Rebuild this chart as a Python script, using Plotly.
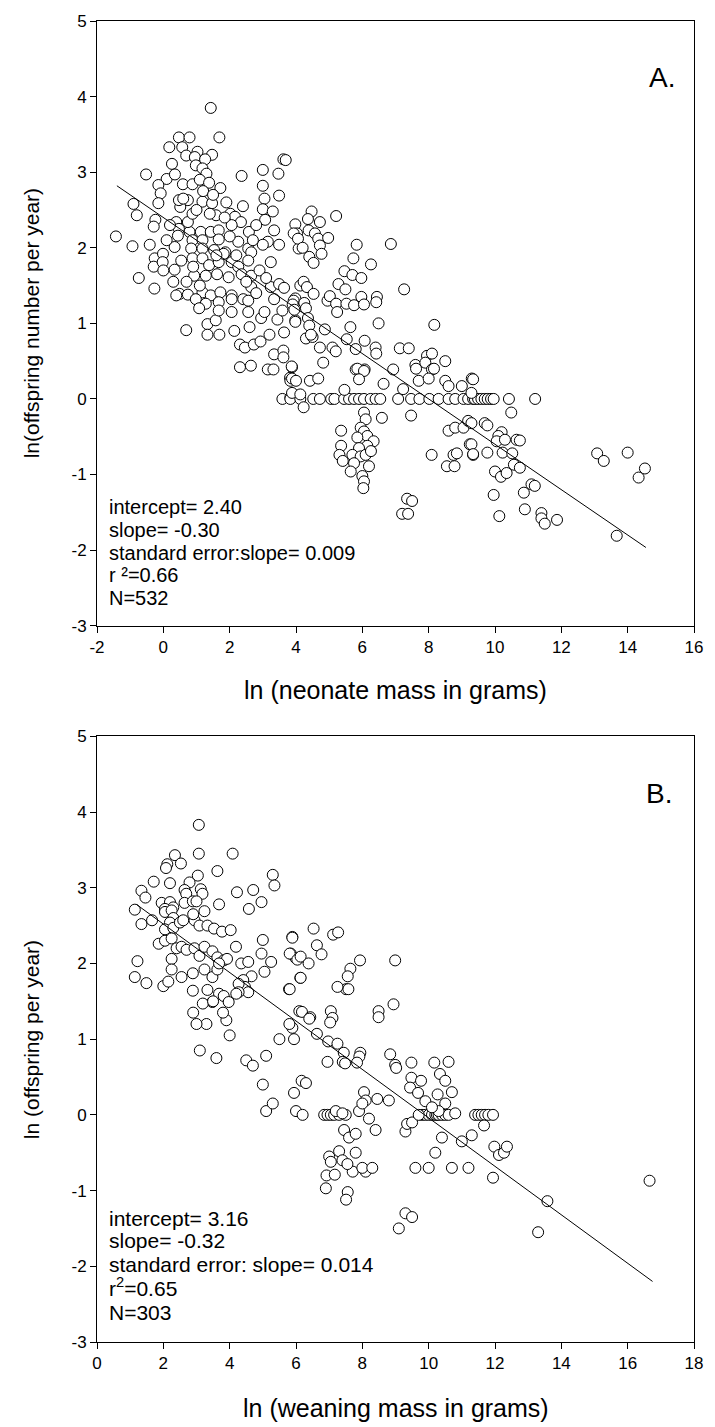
import plotly.graph_objects as go

# ---------------- Panel A data: ln(neonate mass) vs ln(offspring number per year)
a_core = [
    (1.43, 3.85), (0.47, 3.46), (0.79, 3.46), (1.69, 3.46), (0.18, 3.33), (0.57, 3.33), (0.69, 3.22),
    (1.03, 3.27), (0.95, 3.20), (1.47, 3.23), (1.26, 3.17), (0.26, 3.11), (0.98, 3.09), (1.18, 3.05),
    (1.30, 2.98), (-0.52, 2.97), (0.10, 2.91), (-0.15, 2.83), (0.35, 2.97), (0.59, 2.84), (0.88, 2.84),
    (1.10, 2.90), (1.38, 2.86), (1.72, 2.79), (2.36, 2.95), (3.00, 3.03), (3.47, 2.98), (3.62, 3.17),
    (3.00, 2.82), (3.49, 2.69), (3.05, 2.65), (3.00, 2.51), (3.30, 2.48), (3.07, 2.37), (3.34, 2.23),
    (-0.08, 2.72), (-0.15, 2.59), (-0.90, 2.58), (-0.80, 2.43), (-0.24, 2.37), (-0.29, 2.28), (-1.43, 2.15),
    (-0.93, 2.02), (-0.41, 2.04), (0.34, 2.01), (-0.26, 1.86), (-0.01, 1.92), (-0.29, 1.75), (-0.02, 1.81),
    (-0.74, 1.60), (-0.27, 1.46), (0.34, 1.71),
]
a_core_dense = [
    (0.39, 2.34), (0.47, 2.25), (0.44, 2.16), (0.79, 2.21), (0.74, 2.34), (1.13, 2.21), (1.43, 2.21),
    (1.67, 2.23), (0.88, 2.10), (1.18, 2.10), (1.67, 2.11), (0.84, 1.99), (1.18, 1.99), (1.53, 1.97),
    (1.87, 1.94), (2.26, 2.08), (2.56, 1.99), (2.65, 1.94), (2.02, 2.45), (2.16, 2.41), (2.34, 2.34),
    (2.06, 2.30), (2.58, 2.21), (0.74, 2.63), (1.18, 2.61), (1.47, 2.59), (1.59, 2.43), (1.85, 2.40),
    (0.51, 2.54), (0.88, 2.45), (0.47, 2.63), (0.54, 1.83), (0.88, 1.86), (1.18, 1.86), (1.38, 1.77),
    (1.67, 1.81), (1.82, 1.92), (2.06, 1.81), (2.26, 1.75), (2.56, 1.83), (0.93, 1.63), (1.28, 1.63),
    (1.62, 1.65), (1.97, 1.61), (2.36, 1.65), (2.65, 1.63), (0.49, 1.39), (0.74, 1.38), (1.18, 1.41),
    (1.43, 1.37), (1.72, 1.41), (2.06, 1.37), (2.41, 1.32), (2.65, 1.48), (3.24, 1.81), (3.49, 2.04),
    (3.15, 2.08), (3.00, 2.04), (3.24, 1.48), (3.49, 1.52), (3.64, 1.47), (3.98, 2.31), (4.03, 2.19),
    (4.08, 1.99), (3.98, 1.33), (4.13, 1.50), (1.00, 2.50), (1.20, 2.75), (0.60, 2.65), (1.50, 2.70),
    (2.00, 2.15), (2.20, 1.90), (1.40, 2.45), (0.20, 2.30), (0.10, 2.10), (0.00, 1.70), (2.80, 2.30),
    (2.90, 1.70), (2.80, 1.40), (3.10, 1.60), (2.50, 1.55), (1.10, 1.50), (0.70, 1.55), (0.90, 1.75),
    (1.60, 1.90), (2.40, 2.55), (2.70, 2.10), (1.90, 2.60), (0.30, 1.55),
]
a_lower_left = [
    (0.69, 0.91), (1.33, 0.99), (1.58, 1.04), (1.33, 0.85), (1.69, 0.85), (2.14, 0.90), (2.60, 0.95),
    (2.31, 0.72), (2.46, 0.68), (2.73, 0.72), (2.93, 0.76), (3.20, 0.85), (2.95, 1.07), (3.44, 1.05),
    (3.59, 1.17), (3.98, 1.04), (3.64, 0.88), (3.34, 0.59), (3.62, 0.64), (3.62, 0.55), (2.31, 0.42),
    (2.64, 0.44), (3.15, 0.39), (3.32, 0.39), (3.88, 0.42), (3.82, 0.28), (3.83, 0.24), (3.59, 0.00),
    (3.83, 0.02), (0.39, 1.37), (0.98, 1.32), (1.28, 1.26), (1.67, 1.28), (2.06, 1.32), (2.56, 1.30),
    (3.34, 1.32), (3.93, 1.30), (3.05, 1.15), (2.56, 1.15), (2.06, 1.15), (1.67, 1.17), (1.08, 1.20),
]
a_mid = [
    (3.69, 3.16), (4.47, 2.48), (4.36, 2.38), (4.72, 2.34), (5.21, 2.42), (3.93, 2.19), (4.38, 2.23),
    (4.06, 2.12), (4.57, 2.19), (4.67, 2.12), (4.97, 2.13), (4.20, 2.00), (4.72, 2.03), (4.77, 1.92),
    (4.40, 1.88), (4.53, 1.80), (5.83, 2.04), (6.86, 2.05), (5.73, 1.86), (6.26, 1.78), (5.46, 1.69),
    (5.70, 1.64), (5.97, 1.60), (5.28, 1.52), (5.49, 1.45), (4.23, 1.55), (4.33, 1.48), (4.53, 1.39),
    (4.95, 1.30), (5.02, 1.36), (5.21, 1.26), (5.52, 1.26), (5.75, 1.24), (5.97, 1.35), (6.05, 1.25),
    (6.44, 1.35), (6.42, 1.28), (7.26, 1.45), (5.24, 1.15), (3.90, 1.25), (3.95, 1.18), (4.25, 1.27),
    (4.30, 1.20), (3.98, 1.02), (4.36, 1.07), (4.40, 0.97), (4.87, 0.92), (5.64, 0.95), (6.49, 1.00),
    (8.17, 0.98), (4.30, 0.80), (4.50, 0.82), (4.45, 0.85), (4.72, 0.68), (5.10, 0.68), (5.20, 0.63),
    (5.53, 0.79), (5.80, 0.66), (6.07, 0.77), (6.40, 0.68), (6.42, 0.60), (7.13, 0.67), (7.40, 0.67),
    (4.82, 0.48), (5.80, 0.39), (6.07, 0.39), (6.93, 0.39), (7.60, 0.45), (7.95, 0.57), (8.10, 0.60),
    (7.90, 0.48), (8.10, 0.39), (8.50, 0.50), (3.87, 0.43),
]
a_zero_row = [
    (3.83, 0.0), (4.13, 0.0), (4.52, 0.0), (4.72, 0.0), (5.06, 0.0), (5.16, 0.0), (5.45, 0.0),
    (5.60, 0.0), (5.75, 0.0), (5.90, 0.0), (6.05, 0.0), (6.25, 0.0), (6.40, 0.0), (6.54, 0.0),
    (7.08, 0.0), (7.47, 0.0), (7.72, 0.0), (8.02, 0.0), (8.30, 0.0), (8.60, 0.0), (8.80, 0.0),
    (9.05, 0.0), (9.19, 0.0), (9.34, 0.0), (9.39, 0.0), (9.49, 0.0), (9.59, 0.0), (9.69, 0.0),
    (9.78, 0.0), (9.88, 0.0), (9.96, 0.0), (10.42, 0.0), (11.21, 0.0),
]
a_near_zero = [
    (5.85, 0.40), (6.05, 0.37), (7.62, 0.40), (8.16, 0.40), (3.88, 0.27), (4.00, 0.24), (4.42, 0.24),
    (4.67, 0.27), (5.90, 0.26), (5.46, 0.12), (6.64, 0.20), (7.23, 0.13), (7.70, 0.24), (8.00, 0.27),
    (8.50, 0.24), (8.60, 0.17), (9.00, 0.17), (9.30, 0.27), (3.88, 0.08), (4.13, 0.06), (4.23, -0.11),
    (6.05, -0.18), (6.10, -0.27), (6.59, -0.25), (7.47, -0.22), (5.36, -0.42), (5.95, -0.38),
    (6.05, -0.43), (6.15, -0.49), (5.85, -0.51), (6.34, -0.56), (6.15, -0.62), (5.90, -0.65),
    (5.36, -0.62), (5.31, -0.74), (5.41, -0.82), (5.70, -0.74), (5.95, -0.76), (6.10, -0.74),
    (6.26, -0.69), (5.75, -0.85), (5.65, -0.96), (6.20, -0.89), (6.00, -1.02), (6.05, -1.09),
    (6.03, -1.18), (8.60, -0.42), (8.80, -0.38), (9.05, -0.38), (9.19, -0.29), (8.09, -0.74),
    (8.75, -0.74), (8.85, -0.72), (9.24, -0.60), (9.34, -0.74), (8.55, -0.89), (8.78, -0.89),
    (7.35, -1.32), (7.50, -1.35), (7.20, -1.52), (7.38, -1.52),
]
a_right = [
    (9.34, 0.26), (9.29, 0.08), (10.49, -0.18), (9.29, -0.32), (9.69, -0.32), (9.77, -0.35),
    (10.20, -0.44), (10.10, -0.49), (10.05, -0.56), (10.30, -0.54), (10.65, -0.54), (10.75, -0.55),
    (9.29, -0.60), (9.34, -0.73), (9.77, -0.71), (10.23, -0.71), (10.52, -0.72), (10.57, -0.87),
    (10.75, -0.91), (10.00, -0.96), (10.18, -1.03), (10.35, -0.98), (11.10, -1.13), (11.20, -1.15),
    (10.87, -1.24), (9.96, -1.27), (10.90, -1.46), (11.40, -1.51), (11.40, -1.58), (11.50, -1.65),
    (11.87, -1.60), (10.13, -1.55), (13.08, -0.72), (13.28, -0.82), (14.00, -0.71), (14.52, -0.92),
    (14.33, -1.04), (13.67, -1.81),
]

# ---------------- Panel B data: ln(weaning mass) vs ln(offspring per year)
b_upper = [
    (3.07, 3.83), (2.35, 3.43), (3.07, 3.45), (4.09, 3.45), (2.12, 3.31), (2.08, 3.26), (2.53, 3.32),
    (3.63, 3.22), (5.30, 3.17), (5.35, 3.03), (3.04, 3.16), (1.71, 3.08), (2.20, 3.06), (2.79, 3.07),
    (1.34, 2.96), (1.46, 2.87), (2.64, 2.97), (2.69, 2.92), (3.13, 2.98), (3.18, 2.92), (4.22, 2.94),
    (4.71, 2.97), (4.96, 2.81), (4.58, 2.72), (3.68, 2.78), (1.95, 2.80), (2.20, 2.81), (2.30, 2.74),
    (2.05, 2.72), (2.64, 2.80), (2.89, 2.82), (3.00, 2.82), (3.24, 2.69), (1.14, 2.71), (1.34, 2.52),
    (1.66, 2.57), (2.05, 2.68), (2.25, 2.70), (2.30, 2.60), (2.20, 2.54), (2.05, 2.45), (2.30, 2.47),
    (2.50, 2.54), (2.60, 2.57), (2.94, 2.57), (3.09, 2.50), (3.33, 2.50), (3.53, 2.46), (3.77, 2.42),
    (4.03, 2.44), (2.90, 2.65), (1.86, 2.26), (2.05, 2.30), (2.25, 2.33), (2.40, 2.20), (2.55, 2.22),
    (2.70, 2.18), (2.94, 2.20), (3.09, 2.10), (3.24, 2.22), (3.48, 2.16), (3.63, 2.08), (3.82, 2.04),
    (3.92, 2.06), (4.19, 2.22), (5.00, 2.31), (5.89, 2.35), (5.84, 2.13), (5.99, 2.07), (6.13, 1.81),
    (1.22, 2.03), (1.14, 1.82), (1.49, 1.74), (2.25, 2.06), (2.25, 1.92), (2.55, 1.82), (2.89, 1.87),
    (3.24, 1.92), (3.48, 1.82), (3.63, 1.92), (3.68, 2.00), (2.00, 1.70), (2.15, 1.76), (2.89, 1.64),
    (3.33, 1.65), (3.68, 1.60), (4.35, 2.00), (4.56, 2.02), (4.96, 2.13), (5.25, 2.02), (5.05, 1.89),
    (4.66, 1.83), (4.41, 1.78), (4.46, 1.69), (4.27, 1.73), (4.56, 1.62), (4.27, 1.62), (5.79, 1.66),
    (3.82, 1.57), (3.97, 1.49), (3.48, 1.49), (3.19, 1.47),
]
b_mid = [
    (6.53, 2.46), (5.89, 2.34), (7.12, 2.38), (7.27, 2.41), (6.63, 2.24), (6.77, 2.12), (5.81, 2.13),
    (6.04, 2.05), (6.14, 2.09), (6.38, 2.00), (7.93, 2.04), (7.64, 1.93), (7.56, 1.83), (7.51, 1.66),
    (7.58, 1.66), (7.25, 1.69), (8.99, 2.04), (6.14, 1.81), (5.81, 1.66), (6.10, 1.37), (6.18, 1.36),
    (6.43, 1.29), (6.40, 1.27), (7.05, 1.37), (7.10, 1.28), (7.03, 1.22), (8.49, 1.37), (8.49, 1.29),
    (8.94, 1.46), (5.89, 1.15), (5.94, 1.00), (6.63, 1.07), (6.97, 0.97), (7.25, 0.94), (7.44, 0.82),
    (7.94, 0.82), (7.91, 0.77), (6.95, 0.70), (7.41, 0.70), (7.48, 0.68), (7.84, 0.69), (8.84, 0.80),
    (8.99, 0.66), (9.02, 0.62), (9.48, 0.69), (10.17, 0.69), (10.34, 0.54), (9.48, 0.49), (9.77, 0.45),
    (9.44, 0.36), (9.68, 0.29), (10.27, 0.27), (6.17, 0.45), (5.94, 0.29), (8.05, 0.30), (8.45, 0.21),
    (8.80, 0.19), (8.10, 0.19), (9.90, 0.18),
]
b_left_low = [
    (4.50, 0.72), (4.70, 0.65), (5.10, 0.78), (5.00, 0.40), (5.10, 0.05), (5.30, 0.15), (5.50, 1.00),
    (5.80, 1.20), (6.00, 0.05), (6.20, 0.00), (6.30, 0.42), (4.00, 1.05), (3.60, 0.75), (3.90, 1.25),
    (3.30, 1.20), (3.00, 1.20), (3.10, 0.85), (2.90, 1.35), (3.50, 1.50), (3.80, 1.35), (4.20, 1.60),
]
b_zero_row = [
    (6.85, 0.0), (6.95, 0.0), (7.05, 0.0), (7.15, 0.0), (7.30, 0.0), (7.50, 0.0), (9.80, 0.0),
    (9.90, 0.0), (10.00, 0.0), (10.10, 0.0), (10.20, 0.0), (10.25, 0.0), (10.30, 0.0), (10.40, 0.0),
    (10.50, 0.0), (10.60, 0.0), (11.40, 0.0), (11.50, 0.0), (11.60, 0.0), (11.70, 0.0), (11.80, 0.0),
    (11.94, 0.0),
]
b_low = [
    (6.92, -0.80), (7.17, -0.79), (6.90, -0.97), (7.56, -1.02), (7.51, -1.12), (7.71, -0.75),
    (8.10, -0.75), (7.00, -0.55), (7.05, -0.62), (7.30, -0.48), (7.45, -0.20), (7.60, -0.30),
    (7.40, -0.60), (7.55, -0.65), (7.80, -0.50), (7.80, -0.25), (8.00, -0.70), (8.30, -0.70),
    (8.20, -0.05), (8.40, -0.20), (7.90, 0.05), (8.00, 0.15), (7.20, 0.05), (7.40, 0.02),
    (9.30, -0.22), (9.35, -0.12), (9.50, -0.10), (9.70, 0.00), (9.60, -0.70), (9.10, -1.50),
    (9.30, -1.30), (9.50, -1.35), (10.00, -0.70), (10.20, -0.50), (10.40, -0.30), (10.50, 0.15),
    (10.70, 0.30), (10.50, 0.45), (10.60, 0.70), (10.30, 0.05), (10.10, 0.10), (10.80, 0.02),
    (11.00, -0.35), (10.70, -0.70), (11.20, -0.70), (11.67, -0.14), (11.98, -0.42), (12.12, -0.53),
    (12.27, -0.50), (12.36, -0.42), (11.94, -0.83), (16.66, -0.87), (13.58, -1.14), (11.30, -0.27),
    (13.30, -1.55),
]

# regression statistics printed on the chart
a_intercept, a_slope = 2.40, -0.30
b_intercept, b_slope = 3.16, -0.32
a_fit_range = [-1.4, 14.55]
b_fit_range = [1.2, 16.75]

a_stats = ["intercept= 2.40", "slope= -0.30", "standard error:slope= 0.009", "r \u00b2=0.66", "N=532"]
b_stats = ["intercept= 3.16", "slope= -0.32", "standard error: slope= 0.014", "r<sup>2</sup>=0.65", "N=303"]

a_xticks = list(range(-2, 17, 2))
b_xticks = list(range(0, 19, 2))
y_ticks = list(range(-3, 6))

a_pts = a_core + a_core_dense + a_lower_left + a_mid + a_zero_row + a_near_zero + a_right
b_pts = b_upper + b_mid + b_left_low + b_zero_row + b_low

FONT = "Arial, Liberation Sans, sans-serif"

fig = go.Figure()
marker = dict(size=11, color="white", line=dict(color="black", width=1))
fig.add_trace(go.Scatter(x=[p[0] for p in a_pts], y=[p[1] for p in a_pts], mode="markers",
                         marker=marker, xaxis="x", yaxis="y", showlegend=False))
fig.add_trace(go.Scatter(x=a_fit_range, y=[a_intercept + a_slope * v for v in a_fit_range], mode="lines",
                         line=dict(color="black", width=1), xaxis="x", yaxis="y", showlegend=False))
fig.add_trace(go.Scatter(x=[p[0] for p in b_pts], y=[p[1] for p in b_pts], mode="markers",
                         marker=marker, xaxis="x2", yaxis="y2", showlegend=False))
fig.add_trace(go.Scatter(x=b_fit_range, y=[b_intercept + b_slope * v for v in b_fit_range], mode="lines",
                         line=dict(color="black", width=1), xaxis="x2", yaxis="y2", showlegend=False))

W, H = 715, 1427
L, R, T, B = 97, 12, 16, 85
plot_h = H - T - B
a_top, a_bot = 16, 623
b_top, b_bot = 734, 1342


def fy(px):
    return (H - B - px) / plot_h


def fx(px):
    return (px - L) / (W - L - R)


def labels(vals):
    return [str(v) for v in vals]


axis_common = dict(showgrid=False, zeroline=False, showline=True, linecolor="black", linewidth=1,
                   mirror=True, ticks="outside", ticklen=6, tickwidth=1, tickcolor="black",
                   ticklabeloverflow="allow",
                   tickfont=dict(family=FONT, size=17, color="black"))

fig.update_layout(
    width=W, height=H, margin=dict(l=L, r=R, t=T, b=B),
    paper_bgcolor="white", plot_bgcolor="white",
    xaxis=dict(axis_common, range=[-2, 16], tickvals=a_xticks, ticktext=labels(a_xticks),
               domain=[0, 1], anchor="y"),
    yaxis=dict(axis_common, range=[-3, 5], tickvals=y_ticks, ticktext=labels(y_ticks),
               domain=[fy(a_bot), fy(a_top)], anchor="x"),
    xaxis2=dict(axis_common, range=[0, 18], tickvals=b_xticks, ticktext=labels(b_xticks),
                domain=[0, 1], anchor="y2"),
    yaxis2=dict(axis_common, range=[-3, 5], tickvals=y_ticks, ticktext=labels(y_ticks),
                domain=[fy(b_bot), fy(b_top)], anchor="x2"),
)

ann = []
# panel labels
ann.append(dict(text="A.", x=15.05, y=4.25, xref="x", yref="y", xanchor="center", yanchor="middle",
                showarrow=False, font=dict(family=FONT, size=28, color="black")))
ann.append(dict(text="B.", x=16.95, y=4.25, xref="x2", yref="y2", xanchor="center", yanchor="middle",
                showarrow=False, font=dict(family=FONT, size=28, color="black")))
# stats text
a_stat_y = [-1.43, -1.73, -2.04, -2.33, -2.63]
b_stat_y = [-1.37, -1.66, -1.98, -2.28, -2.61]
for t, yv in zip(a_stats, a_stat_y):
    ann.append(dict(text=t, x=-1.7, y=yv, xref="x", yref="y", xanchor="left", yanchor="middle",
                    showarrow=False, font=dict(family=FONT, size=20, color="black")))
for t, yv in zip(b_stats, b_stat_y):
    ann.append(dict(text=t, x=0.3, y=yv, xref="x2", yref="y2", xanchor="left", yanchor="middle",
                    showarrow=False, font=dict(family=FONT, size=21, color="black")))
# axis titles
title_font = dict(family=FONT, size=25, color="black")
ann.append(dict(text="ln (neonate mass in grams)", x=0.5, y=fy(688), xref="paper", yref="paper",
                xanchor="center", yanchor="middle", showarrow=False, font=title_font))
ann.append(dict(text="ln (weaning mass in grams)", x=0.5, y=fy(1408), xref="paper", yref="paper",
                xanchor="center", yanchor="middle", showarrow=False, font=title_font))
ann.append(dict(text="ln(offspring number per year)", x=fx(30), y=fy((a_top + a_bot) / 2), xref="paper",
                yref="paper", xanchor="center", yanchor="middle", showarrow=False, textangle=-90,
                font=dict(family=FONT, size=21, color="black")))
ann.append(dict(text="ln (offspring per year)", x=fx(30), y=fy((b_top + b_bot) / 2), xref="paper",
                yref="paper", xanchor="center", yanchor="middle", showarrow=False, textangle=-90,
                font=dict(family=FONT, size=21, color="black")))
fig.update_layout(annotations=ann)

fig.write_html("out.html", config={"displayModeBar": False},
               post_script="document.body.style.margin='0px';document.body.style.overflow='hidden';")
